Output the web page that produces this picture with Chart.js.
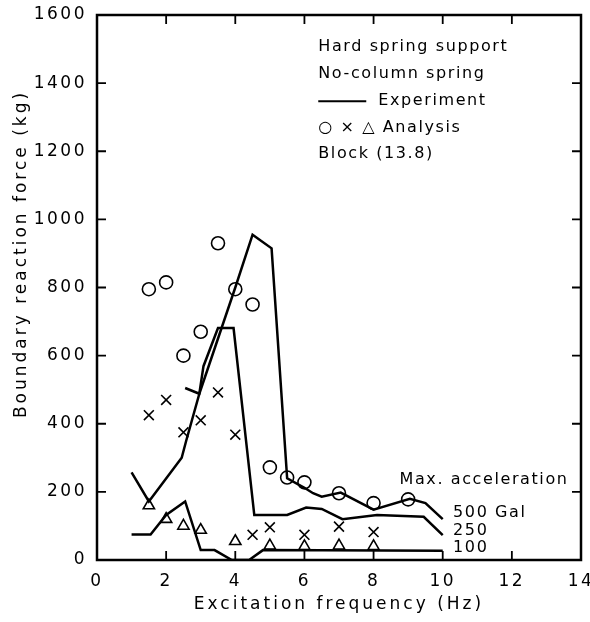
<!DOCTYPE html>
<html>
<head>
<meta charset="utf-8">
<script src="https://cdn.jsdelivr.net/npm/chart.js@4.4.0/dist/chart.umd.min.js"></script>
<style>
  html, body { margin: 0; padding: 0; background: #fff; }
  #wrap { width: 590px; height: 622px; }
</style>
</head>
<body>
<div id="wrap"><canvas id="chart"></canvas></div>
<script>
// Experiment lines (Hz, kg)
const exp500X = [2.55, 2.96, 4.0, 4.5, 5.05, 5.5, 6.0, 6.25, 6.5, 7.05, 8.0, 9.05, 9.5, 10.0];
const exp500Y = [505, 488, 800, 955, 915, 240, 212, 196, 186, 198, 148, 180, 167, 120];

const exp250X = [1.0, 1.5, 2.45, 2.58, 2.96, 3.08, 3.5, 3.95, 4.55, 5.5, 6.05, 6.5, 7.1, 8.1, 9.45, 10.0];
const exp250Y = [257, 172, 300, 350, 488, 569, 681, 681, 132, 132, 154, 150, 120, 132, 127, 73];

const exp100X = [1.0, 1.55, 2.0, 2.55, 3.0, 3.4, 3.9, 4.4, 4.8, 10.0];
const exp100Y = [75, 75, 132, 172, 29, 29, 0, 0, 29, 27];

// Analysis points
const circX = [1.5, 2, 2.5, 3, 3.5, 4, 4.5, 5, 5.5, 6, 7, 8, 9];
const circY = [795, 815, 600, 670, 930, 795, 750, 272, 242, 228, 196, 167, 178];

const crossX = [1.5, 2, 2.5, 3, 3.5, 4, 4.5, 5, 6, 7, 8];
const crossY = [425, 470, 375, 410, 492, 368, 74, 96, 74, 98, 82];

const triX = [1.5, 2, 2.5, 3, 4, 5, 6, 7, 8];
const triY = [160, 120, 100, 88, 55, 42, 40, 42, 40];

const xTicks = [0, 2, 4, 6, 8, 10, 12, 14];
const yTicks = [0, 200, 400, 600, 800, 1000, 1200, 1400, 1600];

const accelLabels = ['500 Gal', '250', '100'];
const notes = ['Hard spring support', 'No-column spring'];

function pts(xs, ys) {
    return xs.map((x, i) => ({ x: x, y: ys[i] }));
}

function lineSet(xs, ys) {
    return {
        data: pts(xs, ys),
        showLine: true,
        borderColor: '#000',
        borderWidth: 2.5,
        pointRadius: 0,
        tension: 0
    };
}

function markSet(xs, ys, style, r) {
    return {
        data: pts(xs, ys),
        showLine: false,
        pointStyle: style,
        pointRadius: r,
        pointBorderColor: '#000',
        pointBackgroundColor: '#fff',
        pointBorderWidth: 1.6
    };
}

const FONT = '"DejaVu Sans", sans-serif';

// frame, inward ticks, titles and notes
const framePlugin = {
    id: 'frame',
    beforeDraw(chart) {
        chart.ctx.letterSpacing = '2.5px';
    },
    afterDraw(chart) {
        const ctx = chart.ctx;
        const a = chart.chartArea;
        const xs = chart.scales.x, ys = chart.scales.y;
        ctx.save();
        ctx.strokeStyle = '#000';
        ctx.lineWidth = 2.5;
        ctx.strokeRect(a.left, a.top, a.right - a.left, a.bottom - a.top);

        ctx.lineWidth = 1.8;
        ctx.beginPath();
        xTicks.slice(1, -1).forEach(v => {
            const px = xs.getPixelForValue(v);
            ctx.moveTo(px, a.bottom); ctx.lineTo(px, a.bottom - 9);
            ctx.moveTo(px, a.top); ctx.lineTo(px, a.top + 9);
        });
        yTicks.slice(1, -1).forEach(v => {
            const py = ys.getPixelForValue(v);
            ctx.moveTo(a.left, py); ctx.lineTo(a.left + 9, py);
            ctx.moveTo(a.right, py); ctx.lineTo(a.right - 9, py);
        });
        ctx.stroke();

        ctx.fillStyle = '#000';
        ctx.letterSpacing = '3px';
        ctx.font = '17px ' + FONT;
        ctx.textBaseline = 'middle';

        // axis titles
        ctx.textAlign = 'center';
        ctx.fillText('Excitation frequency (Hz)', (a.left + a.right) / 2, 605);
        ctx.save();
        ctx.translate(22, 254);
        ctx.rotate(-Math.PI / 2);
        ctx.fillText('Boundary reaction force (kg)', 0, 0);
        ctx.restore();

        // notes block
        ctx.textAlign = 'left';
        ctx.font = '16px ' + FONT;
        ctx.letterSpacing = '1.6px';
        const nx = xs.getPixelForValue(6.4);
        ctx.fillText(notes[0], nx, ys.getPixelForValue(1506));
        ctx.fillText(notes[1], nx, ys.getPixelForValue(1426));
        const ey = ys.getPixelForValue(1347);
        ctx.lineWidth = 2;
        ctx.beginPath();
        ctx.moveTo(nx, ey); ctx.lineTo(nx + 48, ey);
        ctx.stroke();
        ctx.fillText('Experiment', nx + 60, ey);
        ctx.fillText('\u25CB \u00D7 \u25B3 Analysis', nx, ys.getPixelForValue(1270));
        ctx.fillText('Block (13.8)', nx, ys.getPixelForValue(1191));

        // max. acceleration labels
        ctx.fillText('Max. acceleration', xs.getPixelForValue(8.75), ys.getPixelForValue(235));
        const lx = xs.getPixelForValue(10.3);
        ctx.fillText(accelLabels[0], lx, ys.getPixelForValue(138));
        ctx.fillText(accelLabels[1], lx, ys.getPixelForValue(85));
        ctx.fillText(accelLabels[2], lx, ys.getPixelForValue(35));
        ctx.restore();
    }
};

new Chart(document.getElementById('chart'), {
    type: 'scatter',
    data: {
        datasets: [
            lineSet(exp500X, exp500Y),
            lineSet(exp250X, exp250Y),
            lineSet(exp100X, exp100Y),
            markSet(circX, circY, 'circle', 6.5),
            markSet(crossX, crossY, 'crossRot', 7),
            markSet(triX, triY, 'triangle', 6.5)
        ]
    },
    options: {
        responsive: true,
        maintainAspectRatio: false,
        animation: false,
        devicePixelRatio: 1,
        layout: { padding: { top: 15, right: 9, left: 0, bottom: 0 } },
        plugins: {
            legend: { display: false },
            tooltip: { enabled: false }
        },
        scales: {
            x: {
                type: 'linear',
                min: 0,
                max: 14,
                afterFit: s => { s.height = 62; s.paddingLeft = 0; s.paddingRight = 0; },
                afterBuildTicks: s => { s.ticks = xTicks.map(v => ({ value: v })); },
                grid: { display: false, drawTicks: false },
                border: { display: false },
                ticks: { color: '#000', padding: 11, font: { family: FONT, size: 17 }, maxRotation: 0,
                         callback: v => String(v) }
            },
            y: {
                type: 'linear',
                min: 0,
                max: 1600,
                afterFit: s => { s.width = 97; s.paddingTop = 0; s.paddingBottom = 0; },
                afterBuildTicks: s => { s.ticks = yTicks.map(v => ({ value: v })); },
                grid: { display: false, drawTicks: false },
                border: { display: false },
                ticks: { color: '#000', padding: 10, font: { family: FONT, size: 17 },
                         callback: v => String(v) }
            }
        }
    },
    plugins: [framePlugin]
});
</script>
</body>
</html>
